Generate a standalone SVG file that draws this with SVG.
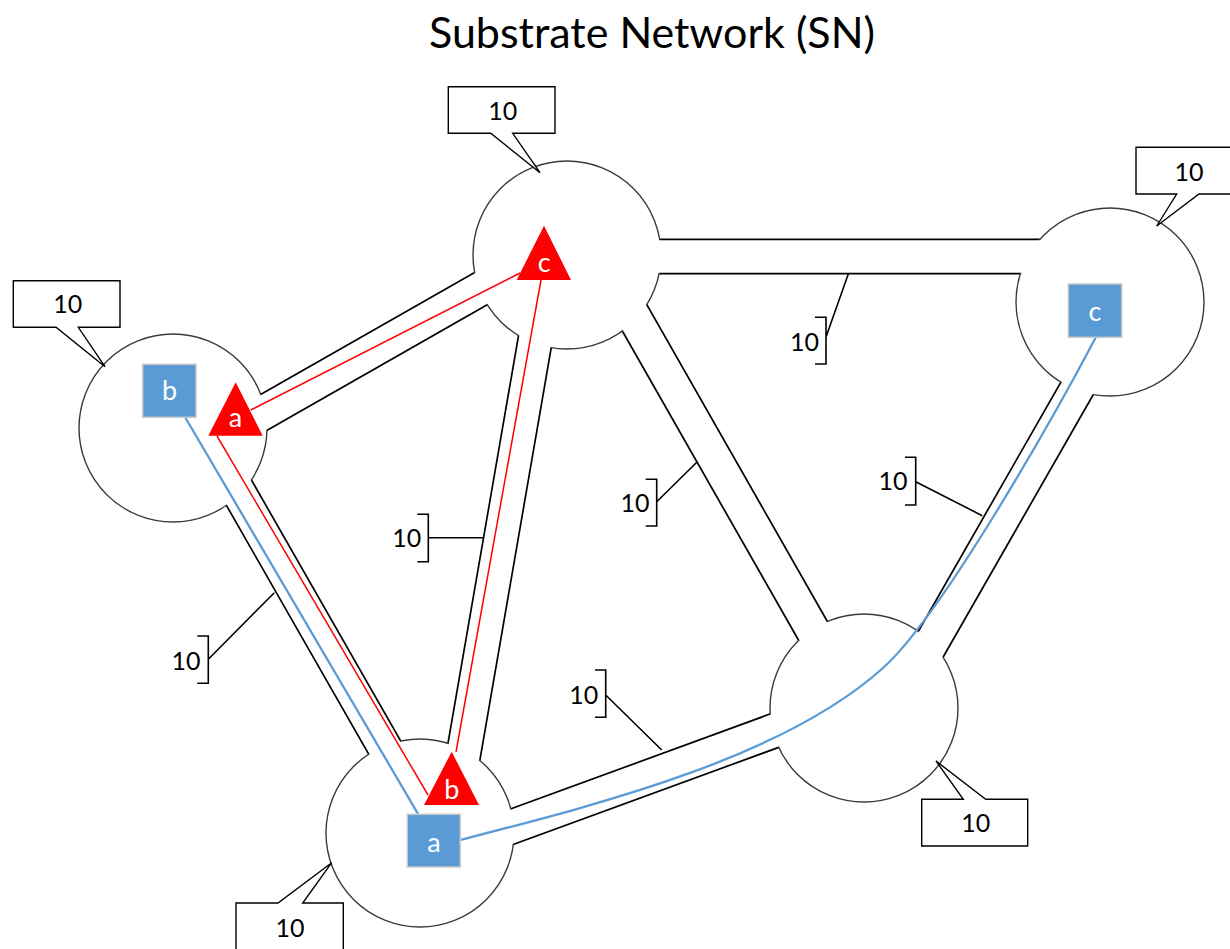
<svg xmlns="http://www.w3.org/2000/svg" width="1230" height="949" viewBox="0 0 1230 949">
<style>
.pipeO{stroke:#000;stroke-width:36;fill:none;stroke-linecap:butt}
.pipeI{stroke:#fff;stroke-width:32.6;fill:none;stroke-linecap:butt}
.node{fill:#fff;stroke:#3a3a3a;stroke-width:1.4}
.call{fill:#fff;stroke:#000;stroke-width:1.4;stroke-linejoin:miter}
.brk{fill:none;stroke:#000;stroke-width:1.6}
.t{font-family:Lato,"Liberation Sans",sans-serif;font-size:25px;fill:#000;text-anchor:middle}
.w{font-family:Lato,"Liberation Sans",sans-serif;font-size:27px;fill:#fff;text-anchor:middle}
.sq{fill:#5b9bd5;stroke:#c9c9c9;stroke-width:1.5}
.tri{fill:#ff0000}
.red{stroke:#ff0000;stroke-width:1.5;fill:none}
.blue{stroke:#5b9bd5;stroke-width:2.3;fill:none}
</style>
<text x="652" y="48" font-family="Lato,'Liberation Sans',sans-serif" font-size="43" text-anchor="middle" fill="#000">Substrate Network (SN)</text>
<g id="pipes-outer">
<line class="pipeO" x1="600" y1="256.5" x2="1100" y2="256.5"/>
<line class="pipeO" x1="200" y1="448.8" x2="540" y2="255"/>
<line class="pipeO" x1="214.5" y1="450" x2="414.7" y2="800"/>
<line class="pipeO" x1="549" y1="260" x2="450.4" y2="830"/>
<line class="pipeO" x1="601.6" y1="260" x2="852.4" y2="700"/>
<line class="pipeO" x1="440" y1="853.1" x2="850" y2="703"/>
<line class="pipeO" x1="898.8" y1="700" x2="1110.5" y2="330"/>
</g>
<g id="node-T"><circle class="node" cx="567" cy="255" r="94"/></g>
<g id="node-L"><circle class="node" cx="173" cy="428" r="94"/></g>
<g id="node-B"><circle class="node" cx="420" cy="833" r="94"/></g>
<g id="node-D"><circle class="node" cx="864" cy="708" r="94"/></g>
<g id="node-R"><circle class="node" cx="1110" cy="302" r="94"/></g>
<g id="connectors">
<line class="pipeI" x1="600" y1="256.5" x2="1100" y2="256.5"/>
<line class="pipeI" x1="200" y1="448.8" x2="540" y2="255"/>
<line class="pipeI" x1="214.5" y1="450" x2="414.7" y2="800"/>
<line class="pipeI" x1="549" y1="260" x2="450.4" y2="830"/>
<line class="pipeI" x1="601.6" y1="260" x2="852.4" y2="700"/>
<line class="pipeI" x1="440" y1="853.1" x2="850" y2="703"/>
<line class="pipeI" x1="898.8" y1="700" x2="1110.5" y2="330"/>
<line class="red" x1="250.7" y1="410" x2="520" y2="273"/>
<line class="red" x1="541" y1="280" x2="456" y2="752"/>
<line class="red" x1="217" y1="436" x2="428" y2="795"/>
<line class="blue" x1="185" y1="417" x2="418.3" y2="814.3"/>
<path class="blue" d="M460,840 C600,804 783,758 883,668 C943,614 1056,413 1096,337"/>
</g>
<g id="labels">
<path class="brk" d="M815,317.3 H826 V364 H815 M826,337 L848.3,274"/>
<text class="t" x="804.5" y="350.5">10</text>
<path class="brk" d="M417.3,514.3 H428.3 V561.7 H417.3 M428.3,537.7 H484"/>
<text class="t" x="406.7" y="547">10</text>
<path class="brk" d="M645.7,479.3 H656.7 V526 H645.7 M656.7,501.7 L697.3,461.7"/>
<text class="t" x="635" y="512">10</text>
<path class="brk" d="M595,670 H605.7 V717.3 H595 M605.7,695 L661.7,750"/>
<text class="t" x="583.8" y="703.5">10</text>
<path class="brk" d="M905,457.3 H915.7 V505 H905 M915.7,481.7 L982.3,515.7"/>
<text class="t" x="893" y="490">10</text>
<path class="brk" d="M197.3,636 H208.3 V683.3 H197.3 M208.3,659.3 L274.3,592.7"/>
<text class="t" x="186" y="669.5">10</text>
</g>
<g id="callout-T"><path class="call" d="M448.3,86.7 H555 V133.3 H512.7 L540,172.7 L490.7,133.3 H448.3 Z"/><text class="t" x="502.7" y="119.5">10</text></g>
<g id="callout-L"><path class="call" d="M13.3,280.7 H120 V327.3 H78.3 L105,366.7 L56,327.3 H13.3 Z"/><text class="t" x="67.7" y="313.3">10</text></g>
<g id="callout-R"><path class="call" d="M1136,147.3 H1243 V194 H1199 L1156.7,226 L1176.7,194 H1136 Z"/><text class="t" x="1189" y="180.7">10</text></g>
<g id="callout-D"><path class="call" d="M921.7,799.3 H963.3 L936,761 L985.7,799.3 H1027.7 V846 H921.7 Z"/><text class="t" x="975.8" y="831.7">10</text></g>
<g id="callout-B"><path class="call" d="M236,903 H278 L331.7,862.7 L302.7,903 H343.3 V960 H236 Z"/><text class="t" x="290" y="937">10</text></g>
<g id="vnode-b-sq"><rect class="sq" x="142.7" y="364.3" width="53.3" height="53"/><text class="w" x="169.5" y="400">b</text></g>
<g id="vnode-a-sq"><rect class="sq" x="407.3" y="814.3" width="53" height="52.7"/><text class="w" x="434" y="851.5">a</text></g>
<g id="vnode-c-sq"><rect class="sq" x="1068.3" y="284" width="53.4" height="53.3"/><text class="w" x="1095" y="320.5">c</text></g>
<g id="vnode-a-tri"><polygon class="tri" points="235.7,382.3 262.7,435.7 208.3,435.7"/><text class="w" x="235.5" y="427">a</text></g>
<g id="vnode-c-tri"><polygon class="tri" points="544,225.7 571,280 516.7,280"/><text class="w" x="544.3" y="271.5">c</text></g>
<g id="vnode-b-tri"><polygon class="tri" points="451.7,751.7 479,805 424,805"/><text class="w" x="451.7" y="799">b</text></g>
</svg>
